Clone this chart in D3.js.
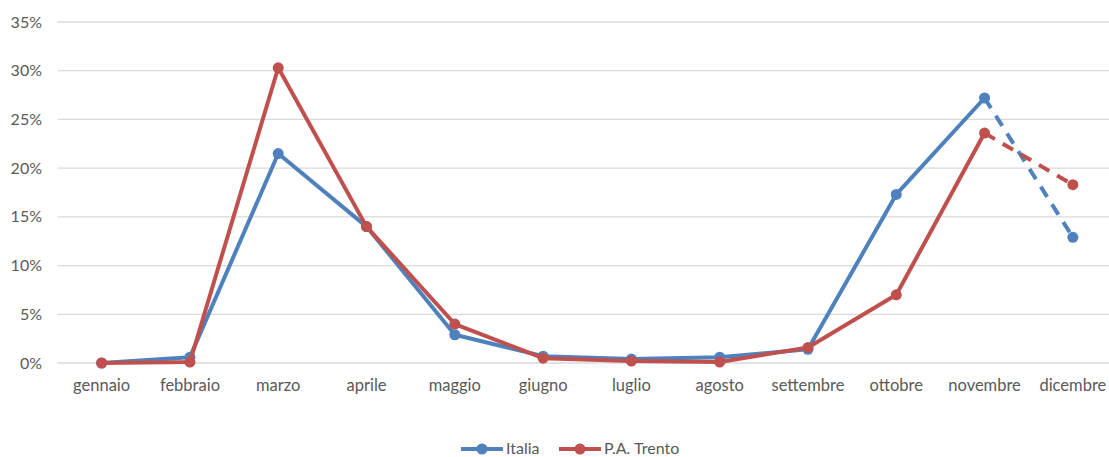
<!DOCTYPE html>
<html>
<head>
<meta charset="utf-8">
<script src="https://cdn.jsdelivr.net/npm/d3@7"></script>
<style>
  body { margin: 0; background: #fff; }
  text { font-family: Lato, "Open Sans", "Liberation Sans", sans-serif; fill: #595959; }
</style>
</head>
<body>
<svg width="1109" height="457"></svg>
<script>
const months = ["gennaio", "febbraio", "marzo", "aprile", "maggio", "giugno",
  "luglio", "agosto", "settembre", "ottobre", "novembre", "dicembre"];
const italia = [0, 0.6, 21.5, 14.0, 2.9, 0.7, 0.4, 0.6, 1.4, 17.3, 27.2, 12.9];
const trento = [0, 0.1, 30.3, 14.0, 4.0, 0.5, 0.2, 0.1, 1.6, 7.0, 23.6, 18.3];
const yTicks = [0, 5, 10, 15, 20, 25, 30, 35];
const series = [
  { name: "Italia", values: italia, color: "#4F81BD" },
  { name: "P.A. Trento", values: trento, color: "#C0504D" },
];

const svg = d3.select("svg");
const x = d3.scaleBand().domain(months).range([57.5, 1117]);
const y = d3.scaleLinear().domain([0, 35]).range([363, 22]);

// gridlines
svg.append("g")
  .selectAll("line")
  .data(yTicks)
  .join("line")
  .attr("x1", 57.5)
  .attr("x2", 1117)
  .attr("y1", (d) => y(d))
  .attr("y2", (d) => y(d))
  .attr("stroke", "#d9d9d9")
  .attr("stroke-width", 1.3);

svg.append("g")
  .selectAll("text")
  .data(yTicks)
  .join("text")
  .attr("x", 42)
  .attr("y", (d) => y(d))
  .attr("dy", "0.35em")
  .attr("text-anchor", "end")
  .attr("font-size", 16)
  .text((d) => `${d}%`);

svg.append("g")
  .selectAll("text")
  .data(months)
  .join("text")
  .attr("x", (d) => x(d) + x.bandwidth() / 2)
  .attr("y", 391)
  .attr("text-anchor", "middle")
  .attr("font-size", 16.5)
  .text((d) => d);

const cx = (i) => x(months[i]) + x.bandwidth() / 2;
const line = d3.line().x((d) => cx(d.i)).y((d) => y(d.v));

series.forEach((s) => {
  const pts = s.values.map((v, i) => ({ v, i }));
  const g = svg.append("g");
  g.append("path")
    .attr("d", line(pts.slice(0, 11)))
    .attr("fill", "none")
    .attr("stroke", s.color)
    .attr("stroke-width", 4)
    .attr("stroke-linejoin", "round");
  g.append("path")
    .attr("d", line(pts.slice(10)))
    .attr("fill", "none")
    .attr("stroke", s.color)
    .attr("stroke-width", 4)
    .attr("stroke-dasharray", "12,9");
  g.selectAll("circle")
    .data(pts)
    .join("circle")
    .attr("cx", (d) => cx(d.i))
    .attr("cy", (d) => y(d.v))
    .attr("r", 5.5)
    .attr("fill", s.color);
});

// legend
const legend = svg.append("g");
const legendX = [461, 559];
series.forEach((s, i) => {
  const lg = legend.append("g").attr("transform", `translate(${legendX[i]},449)`);
  lg.append("line").attr("x1", 0).attr("x2", 42)
    .attr("stroke", s.color).attr("stroke-width", 4);
  lg.append("circle").attr("cx", 21).attr("r", 5.5).attr("fill", s.color);
  lg.append("text").attr("x", 45).attr("dy", "0.33em")
    .attr("font-size", 16).text(s.name);
});
</script>
</body>
</html>
